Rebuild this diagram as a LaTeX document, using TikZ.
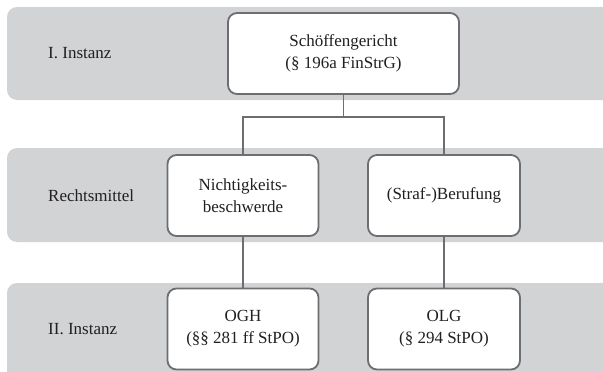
\documentclass[tikz,border=0pt]{standalone}
\usepackage{fontspec}
\setmainfont{Liberation Serif}
\definecolor{bandgray}{HTML}{D1D3D4}
\definecolor{linegray}{HTML}{6D6E71}
\definecolor{txt}{HTML}{231F20}
\begin{document}
\begin{tikzpicture}[x=1pt,y=-1pt,
  court/.style={draw=linegray, line width=1.8pt, fill=white, rounded corners=9pt,
    minimum height=81pt, align=center, inner sep=2pt, font=\fontsize{17}{22}\selectfont, text=txt},
  lbl/.style={anchor=west, font=\fontsize{17}{22}\selectfont, text=txt, inner sep=0pt},
  conn/.style={draw=linegray, line width=1.8pt}]
\useasboundingbox (0,0) rectangle (603,372);
\fill[bandgray, rounded corners=10pt] (7,7) rectangle (640,100);
\fill[bandgray, rounded corners=10pt] (7,148) rectangle (640,242);
\fill[bandgray, rounded corners=10pt] (7,283) rectangle (640,400);
\node[lbl] (l1) at (48,53.5) {I. Instanz};
\node[lbl] (l2) at (48,195.5) {Rechtsmittel};
\node[lbl] (l3) at (48,329) {II. Instanz};
\node[court, minimum width=231pt] (a) at (343.5,53.5) {Schöffengericht\\(§ 196a FinStrG)};
\node[court, minimum width=151pt] (b) at (243,195.5) {Nichtigkeits-\\beschwerde};
\node[court, minimum width=152pt] (c) at (444,195.5) {(Straf-)Berufung};
\node[court, minimum width=151pt] (d) at (243,329) {OGH\\(§§ 281 ff StPO)};
\node[court, minimum width=152pt] (e) at (444,329) {OLG\\(§ 294 StPO)};
\coordinate (j) at (343.5,117);
\draw[conn] (a.south) -- (j);
\draw[conn] (b.north) |- (j) -| (c.north);
\draw[conn] (b.south) -- (d.north);
\draw[conn] (c.south) -- (e.north);
\end{tikzpicture}
\end{document}
